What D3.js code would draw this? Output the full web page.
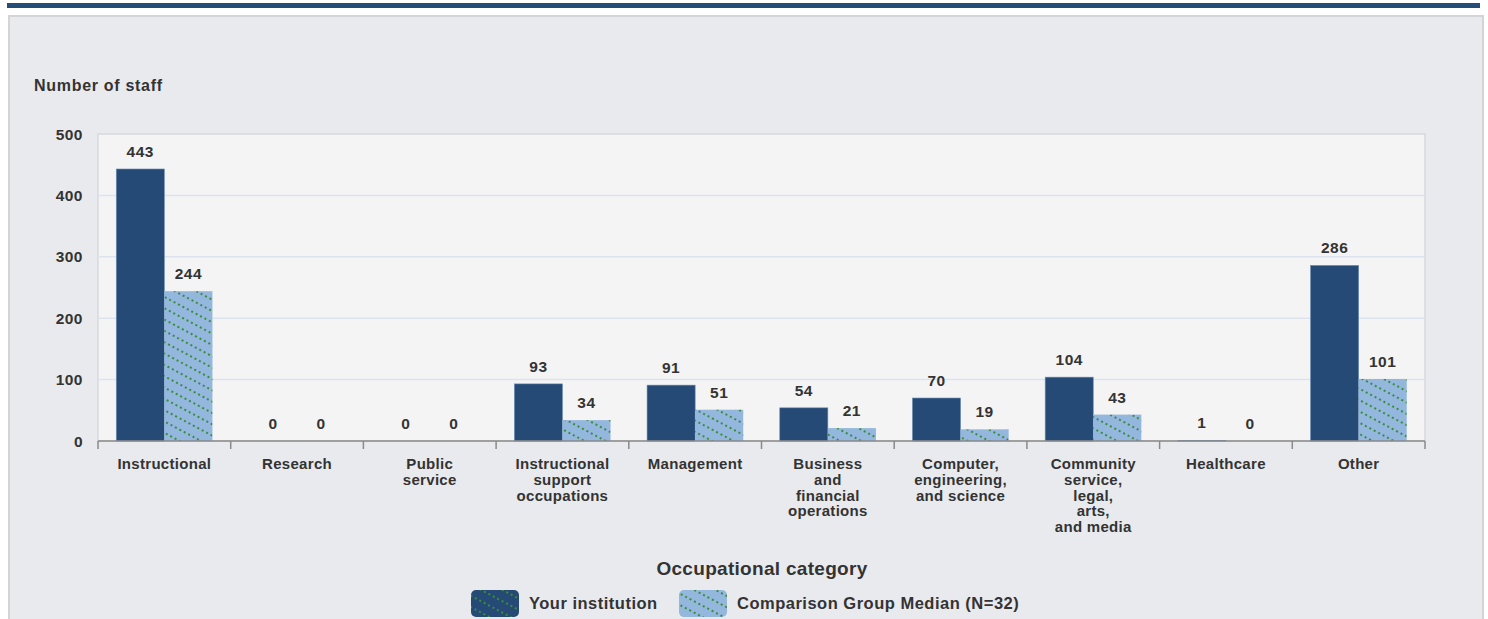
<!DOCTYPE html>
<html><head><meta charset="utf-8">
<script src="https://cdn.jsdelivr.net/npm/d3@7"></script>
<style>body{margin:0;background:#fff;}svg{display:block;font-family:"Liberation Sans",Arial,sans-serif;}</style>
</head><body><svg id="c" width="1488" height="619"></svg>
<script>
const categories = ["Instructional","Research","Public\nservice","Instructional\nsupport\noccupations","Management","Business\nand\nfinancial\noperations","Computer,\nengineering,\nand science","Community\nservice,\nlegal,\narts,\nand media","Healthcare","Other"];
const yourInstitution = [443,0,0,93,91,54,70,104,1,286];
const comparisonMedian = [244,0,0,34,51,21,19,43,0,101];
const seriesNames = ["Your institution","Comparison Group Median (N=32)"];
const yTicks = [0,100,200,300,400,500];

const svg = d3.select("#c");
const defs = svg.append("defs");
function pat(id, bg){
  const p = defs.append("pattern").attr("id",id).attr("patternUnits","userSpaceOnUse")
    .attr("width",10).attr("height",10).attr("patternTransform","rotate(28)");
  p.append("rect").attr("width",10).attr("height",10).attr("fill",bg);
  p.append("line").attr("x1",0).attr("x2",10).attr("y1",5).attr("y2",5)
    .attr("stroke","#3c8c3c").attr("stroke-width",2).attr("stroke-dasharray","2,3");
}
pat("hatchLight","#93b7dd");
pat("hatchDark","#244a75");

const txt = "#333";
// top bar & panel
svg.append("rect").attr("x",7).attr("y",3).attr("width",1473).attr("height",5).attr("fill","#264d78");
svg.append("rect").attr("x",9).attr("y",16).attr("width",1474).attr("height",610).attr("fill","#e9eaee").attr("stroke","#d4d4d6").attr("stroke-width",2);

const m = {l:98, r:1425, t:134, b:441};
const x = d3.scaleBand().domain(d3.range(categories.length)).range([m.l,m.r]).paddingInner(0).paddingOuter(0);
const y = d3.scaleLinear().domain([0,500]).range([m.b,m.t]);
const inner = d3.scaleBand().domain([0,1]).range([0,x.bandwidth()]).paddingOuter(0.38).paddingInner(0);

svg.append("rect").attr("x",m.l).attr("y",m.t).attr("width",m.r-m.l).attr("height",m.b-m.t)
  .attr("fill","#f4f4f4").attr("stroke","#d6d9de").attr("stroke-width",1.5);

// gridlines
svg.append("g").selectAll("line").data(yTicks.filter(d=>d>0&&d<500)).join("line")
  .attr("x1",m.l).attr("x2",m.r).attr("y1",d=>y(d)).attr("y2",d=>y(d))
  .attr("stroke","#dde3ee").attr("stroke-width",1.5);

// y axis labels
svg.append("g").selectAll("text").data(yTicks).join("text")
  .attr("x",83).attr("y",d=>y(d)+5.5).attr("text-anchor","end")
  .attr("font-size",15.5).attr("letter-spacing",0.5).attr("font-weight","bold").attr("fill",txt).text(d=>d);

svg.append("text").attr("x",34).attr("y",91).attr("font-size",16).attr("letter-spacing",0.7).attr("font-weight","bold").attr("fill",txt).text("Number of staff");

// bars
const series = [yourInstitution, comparisonMedian];
const fills = ["#244a75","url(#hatchLight)"];
series.forEach((vals,si)=>{
  const g = svg.append("g");
  g.selectAll("rect").data(vals).join("rect")
    .attr("x",(d,i)=>x(i)+inner(si)).attr("width",inner.bandwidth())
    .attr("y",d=>y(d)).attr("height",d=>y(0)-y(d))
    .attr("fill",fills[si]).attr("stroke",si==0?"#6c8db3":"none").attr("stroke-width",si==0?0.6:0);
  g.selectAll("text").data(vals).join("text")
    .attr("x",(d,i)=>x(i)+inner(si)+inner.bandwidth()/2).attr("y",d=>y(d)-12)
    .attr("text-anchor","middle").attr("font-size",15.5).attr("letter-spacing",0.5).attr("font-weight","bold").attr("fill",txt).text(d=>d);
});

// x axis
const ax = svg.append("g");
ax.append("line").attr("x1",m.l).attr("x2",m.r).attr("y1",m.b).attr("y2",m.b).attr("stroke","#8a8a8a").attr("stroke-width",1.5);
ax.selectAll("line.t").data(d3.range(categories.length+1)).join("line").attr("class","t")
  .attr("x1",i=>i<categories.length?x(i):m.r).attr("x2",i=>i<categories.length?x(i):m.r)
  .attr("y1",m.b).attr("y2",m.b+8).attr("stroke","#8a8a8a").attr("stroke-width",1.5);
categories.forEach((c,i)=>{
  const cx = x(i)+x.bandwidth()/2;
  const t = ax.append("text").attr("x",cx).attr("y",469).attr("text-anchor","middle")
    .attr("font-size",15).attr("letter-spacing",0.3).attr("font-weight","bold").attr("fill",txt);
  c.split("\n").forEach((ln,k)=>t.append("tspan").attr("x",cx).attr("dy",k?15.8:0).text(ln));
});

svg.append("text").attr("x",762).attr("y",575).attr("text-anchor","middle").attr("font-size",19).attr("letter-spacing",0.3).attr("font-weight","bold").attr("fill",txt).text("Occupational category");

// legend
const legX = [471,679];
const legFills = ["url(#hatchDark)","url(#hatchLight)"];
seriesNames.forEach((n,i)=>{
  svg.append("rect").attr("x",legX[i]).attr("y",590).attr("width",48).attr("height",27).attr("rx",5)
    .attr("fill",legFills[i]);
  svg.append("text").attr("x",legX[i]+58).attr("y",609).attr("font-size",16.5).attr("letter-spacing",0.5).attr("font-weight","bold").attr("fill",txt).text(n);
});
</script></body></html>
